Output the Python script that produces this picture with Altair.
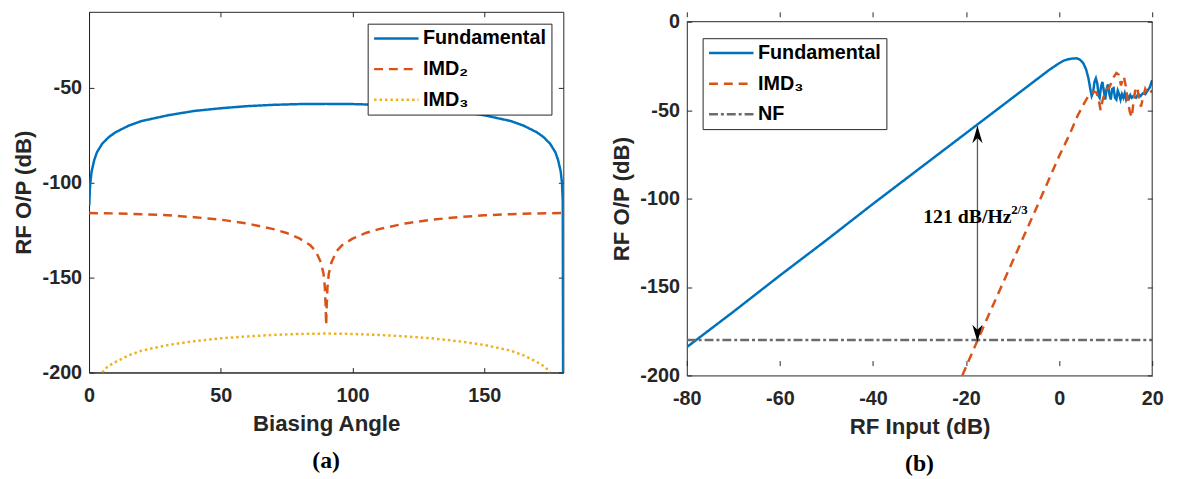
import altair as alt
import pandas as pd

# ---------------- Panel (a): Biasing angle sweep ----------------
a_fund_x = [0.1, 0.3, 0.5, 1, 2, 3, 5, 7.5, 10, 15, 20, 25, 30, 40, 50, 60, 70, 80, 90,
            100, 110, 120, 130, 140, 150, 155, 160, 165, 170, 172.5, 175, 177, 178, 179,
            179.5, 179.8, 180]
a_fund_y = [-112, -104, -100, -94, -88, -84, -79.5, -76, -73.5, -70, -67.5, -66, -64.5,
            -62.2, -60.8, -59.7, -59, -58.6, -58.5, -58.6, -59, -59.7, -60.8, -62.2, -64.5,
            -66, -67.5, -70, -73.5, -76, -79.5, -84, -88, -94, -100, -110, -260]

a_imd2_x = [0, 10, 20, 30, 40, 50, 60, 70, 75, 80, 84, 86, 88, 89, 89.5, 89.8, 90,
            90.2, 90.5, 91, 92, 94, 96, 100, 105, 110, 120, 130, 140, 150, 160, 170, 180]
a_imd2_y = [-116, -116.2, -116.6, -117.2, -118.2, -119.5, -121.5, -124.5, -126.5, -129.5,
            -133, -136, -142, -148, -155, -165, -175, -165, -155, -148, -142, -136, -133,
            -129.5, -126.5, -124.5, -121.5, -119.5, -118.2, -117.2, -116.6, -116.2, -116]

a_imd3_x = [5, 7, 10, 15, 20, 30, 40, 50, 60, 70, 80, 90, 100, 110, 120, 130, 140, 150,
            160, 165, 170, 173, 175]
a_imd3_y = [-200, -197, -194.5, -191, -188.5, -185.5, -183.5, -182, -181, -180.2, -179.7,
            -179.5, -179.7, -180.2, -181, -182, -183.5, -185.5, -188.5, -191, -194.5, -197,
            -200]

a_series = ["Fundamental", "IMD\u2082", "IMD\u2083"]
a_colors = ["#0072BD", "#D95319", "#EDB120"]
a_dashes = [[1, 0], [9, 6], [2.5, 3]]
a_xticks = [0, 50, 100, 150]
a_yticks = [-200, -150, -100, -50]

# ---------------- Panel (b): RF input sweep ----------------
b_fund_x = [-80, -70, -60, -50, -40, -30, -20, -18, -10, -5, -2, 0, 1, 2, 3, 3.8, 4.5,
            5.2, 5.8, 6.3, 6.7, 7.0, 7.3, 7.6, 7.9, 8.2, 8.5, 8.7, 9.0, 9.3, 9.6, 9.9,
            10.2, 10.5, 10.8, 11.1, 11.4, 11.7, 12.0, 12.3, 12.6, 12.9, 13.2, 13.5, 13.8,
            14.1, 14.4, 14.7, 15.0, 15.3, 15.6, 16.0, 16.5, 17.0, 17.5, 18.0, 18.5, 19.0,
            19.5, 20]
b_fund_y = [-184, -164, -143.5, -123.5, -103, -83, -63, -59, -43, -33, -27, -23.5, -22,
            -21.2, -20.8, -20.7, -21.5, -23.5, -27, -32, -38, -42, -40, -34, -32, -35, -42,
            -43, -37, -34, -39, -44, -38, -35.5, -41, -44, -38, -37.5, -43, -44, -39, -41,
            -44, -41, -43, -40.5, -44, -42, -43.5, -41.5, -43, -42, -43, -41, -42, -40.5,
            -41, -39, -37, -33]

b_imd3_x = [-20.8, -18, -17.5, -15, -10, -5, 0, 2.2, 4, 5.4, 6.5, 7.5, 8, 8.5, 8.9, 9.3,
            9.8, 10.3, 10.8, 11.3, 11.8, 12.3, 12.8, 13.3, 13.6, 13.9, 14.3, 14.7, 15.2,
            15.6, 16.0, 16.4, 16.8, 17.2, 17.6, 18.0, 18.5, 19.0, 19.5, 20]
b_imd3_y = [-200, -183, -180, -165, -135.5, -106, -76, -64, -53, -46, -41, -39.5, -40,
            -44, -50, -45, -40, -38, -37, -34, -31, -29, -30, -36, -33, -31, -36, -44, -51,
            -54, -45, -38, -37, -44, -48, -43, -38, -41, -40, -39]

b_nf_x = [-80, 20]
b_nf_y = [-180, -180]

b_series = ["Fundamental", "IMD\u2083", "NF"]
b_colors = ["#0072BD", "#D95319", "#6B6B6B"]
b_dashes = [[1, 0], [9, 6], [9, 3, 3, 3]]
b_xticks = [-80, -60, -40, -20, 0, 20]
b_yticks = [-200, -150, -100, -50, 0]
b_xdomain = [-80, 20]
b_ydomain = [-200, 0]

# annotation (double arrow and label)
arrow_x = [-17.55]
arrow_top = [-59]
arrow_bottom = [-181]
label_main = ["121 dB/Hz"]
label_main_x = [-29.2]
label_main_y = [-114]
label_sup = ["2/3"]
label_sup_x = [-10.3]
label_sup_y = [-108.5]

AXC = "#262626"
SANS = "Liberation Sans"
SERIF = "Liberation Serif"


def long_df(pairs):
    rows = []
    for name, xs, ys in pairs:
        for i, (x, y) in enumerate(zip(xs, ys)):
            rows.append({"x": x, "y": y, "series": name, "i": i})
    return pd.DataFrame(rows)


def inward_ticks_dash(length):
    return [5, length - 10, 5, 4000]


def make_legend(lx, ly):
    return alt.Legend(title=None, orient="none", legendX=lx, legendY=ly,
                      fillColor="white", strokeColor=AXC, padding=5,
                      labelFont=SANS, labelFontSize=20, labelFontWeight="bold",
                      labelColor="black", symbolType="stroke", symbolSize=2025,
                      symbolStrokeWidth=2.5, rowPadding=11, labelOffset=3,
                      clipHeight=20)


def caption(txt):
    return alt.TitleParams(txt, orient="bottom", font=SERIF, fontSize=24,
                           fontWeight="bold", color="black", offset=14)


# ---------------- build panel (a) ----------------
AW, AH = 480, 365
df_a = long_df([(a_series[0], a_fund_x, a_fund_y),
                (a_series[1], a_imd2_x, a_imd2_y),
                (a_series[2], a_imd3_x, a_imd3_y)])

legend_a = make_legend(282, 12)

panel_a = alt.Chart(df_a).mark_line(clip=True, strokeWidth=2.5).encode(
    x=alt.X("x:Q", scale=alt.Scale(domain=[0, 180], nice=False),
            axis=alt.Axis(title="Biasing Angle", values=a_xticks, labelPadding=13,
                          titlePadding=8, gridDash=inward_ticks_dash(AH))),
    y=alt.Y("y:Q", scale=alt.Scale(domain=[-200, -10], nice=False),
            axis=alt.Axis(title="RF O/P (dB)", values=a_yticks,
                          gridDash=inward_ticks_dash(AW))),
    color=alt.Color("series:N", scale=alt.Scale(domain=a_series, range=a_colors),
                    legend=legend_a),
    strokeDash=alt.StrokeDash("series:N", scale=alt.Scale(domain=a_series, range=a_dashes),
                              legend=legend_a),
    detail="series:N",
    order="i:Q",
).properties(width=AW, height=AH, title=caption("(a)"))

# ---------------- build panel (b) ----------------
# panel (b) sits a few pixels lower than panel (a): its plot rectangle starts ROFF
# below the top of its cell
BW, BH, ROFF = 471, 368, 10
df_b = long_df([(b_series[0], b_fund_x, b_fund_y),
                (b_series[1], b_imd3_x, b_imd3_y),
                (b_series[2], b_nf_x, b_nf_y)])

legend_b = make_legend(16, 26.7)

xb = alt.X("x:Q", scale=alt.Scale(domain=b_xdomain, nice=False),
           axis=alt.Axis(title="RF Input (dB)", values=b_xticks, labelPadding=13,
                         titlePadding=8,
                         gridDash=[5, BH - ROFF - 10, 5, 4000]))
yb = alt.Y("y:Q", scale=alt.Scale(domain=b_ydomain, nice=False, range=[BH, ROFF]),
           axis=alt.Axis(title="RF O/P (dB)", values=b_yticks,
                         gridDash=inward_ticks_dash(BW)))

lines_b = alt.Chart(df_b).mark_line(clip=True, strokeWidth=2.5).encode(
    x=xb, y=yb,
    color=alt.Color("series:N", scale=alt.Scale(domain=b_series, range=b_colors),
                    legend=legend_b),
    strokeDash=alt.StrokeDash("series:N", scale=alt.Scale(domain=b_series, range=b_dashes),
                              legend=legend_b),
    detail="series:N",
    order="i:Q",
)

# top and right edges of the frame of panel (b)
frame_top = alt.Chart().mark_rule(color=AXC, strokeWidth=1).encode(
    x=alt.datum(b_xdomain[0]), x2=alt.datum(b_xdomain[1]), y=alt.datum(b_ydomain[1]))
frame_right = alt.Chart().mark_rule(color=AXC, strokeWidth=1).encode(
    x=alt.datum(b_xdomain[1]), y=alt.datum(b_ydomain[1]), y2=alt.datum(b_ydomain[0]))

arr_df = pd.DataFrame({"x": arrow_x, "top": arrow_top, "bottom": arrow_bottom})
arrow_line = alt.Chart(arr_df).mark_rule(color="#5A5A5A", strokeWidth=1.3).encode(
    x="x:Q", y="top:Q", y2="bottom:Q")
arrow_up = alt.Chart(arr_df).mark_point(
    shape="M0,0L0.6,2L0,1.4L-0.6,2Z", filled=True, fill="black",
    opacity=1, size=300).encode(x="x:Q", y="top:Q")
arrow_down = alt.Chart(arr_df).mark_point(
    shape="M0,0L0.6,-2L0,-1.4L-0.6,-2Z", filled=True, fill="black",
    opacity=1, size=300).encode(x="x:Q", y="bottom:Q")

lab_df = pd.DataFrame({"t": label_main, "x": label_main_x, "y": label_main_y})
sup_df = pd.DataFrame({"t": label_sup, "x": label_sup_x, "y": label_sup_y})
label_text = alt.Chart(lab_df).mark_text(
    font=SERIF, fontSize=20, fontWeight="bold", align="left", baseline="alphabetic",
    color="black").encode(x="x:Q", y="y:Q", text="t:N")
sup_text = alt.Chart(sup_df).mark_text(
    font=SERIF, fontSize=13, fontWeight="bold", align="left", baseline="alphabetic",
    color="black").encode(x="x:Q", y="y:Q", text="t:N")

panel_b = alt.layer(lines_b, frame_top, frame_right, arrow_line, arrow_up, arrow_down,
                    label_text, sup_text).properties(
    width=BW, height=BH, title=caption("(b)"),
    view=alt.ViewBackground(stroke="transparent"))

chart = alt.hconcat(panel_a, panel_b, spacing=46).resolve_scale(
    x="independent", y="independent", color="independent", strokeDash="independent"
).resolve_legend(color="independent", strokeDash="independent").properties(
    padding={"left": 4, "top": 0, "right": 5, "bottom": 5}
).configure_view(
    stroke=AXC, strokeWidth=1
).configure_axis(
    domainColor=AXC, domainWidth=1, ticks=False, grid=True, gridColor=AXC,
    gridWidth=1, gridOpacity=1, labelFlush=False, labelExpr="'' + datum.value",
    labelFont=SANS, labelFontSize=20, labelFontWeight="bold", labelColor=AXC,
    labelPadding=7.5,
    titleFont=SANS, titleFontSize=22.5, titleFontWeight="bold", titleColor=AXC,
    titlePadding=6.5,
).configure_title(anchor="middle")

chart.save("out.html", embed_options={"renderer": "svg", "actions": False})
